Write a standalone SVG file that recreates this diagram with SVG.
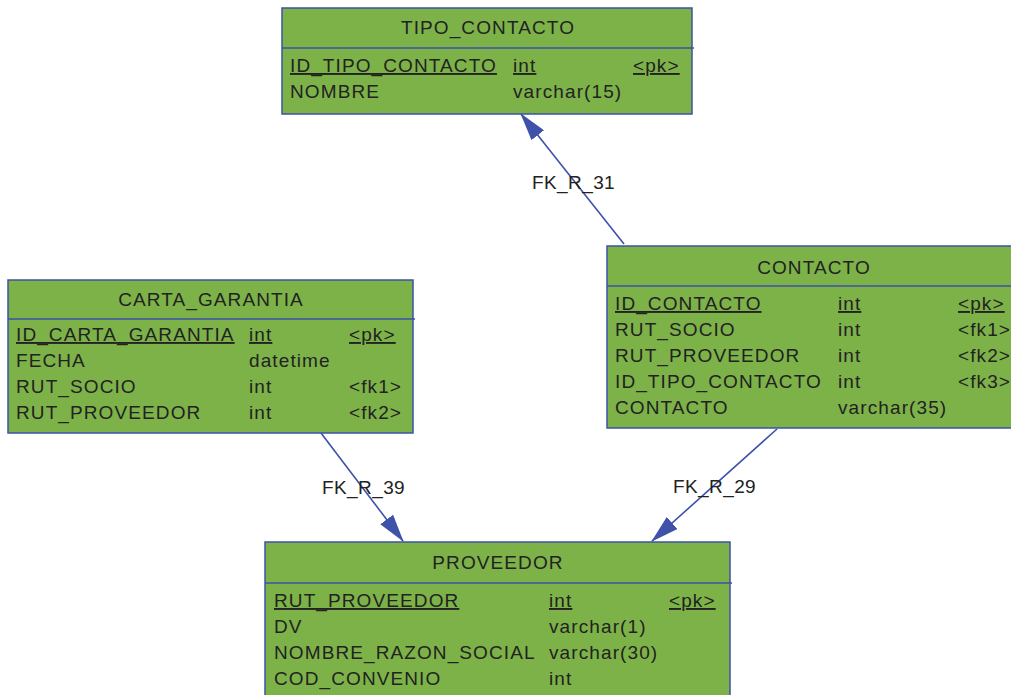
<svg xmlns="http://www.w3.org/2000/svg" width="1011" height="695" viewBox="0 0 1011 695">
  <style>
    .box { fill: #7db249; stroke: #3d52a8; stroke-width: 1.5; }
    .sep { stroke: #3d52a8; stroke-width: 1.5; }
    .title { font-family: "Liberation Sans", Arial, sans-serif; font-size: 19px; letter-spacing: 1.1px; fill: #222; text-anchor: middle; }
    .col { font-family: "Liberation Sans", Arial, sans-serif; font-size: 19px; letter-spacing: 1.1px; fill: #222; }
    .pk { text-decoration: underline; }
    .rel { stroke: #3d52a8; stroke-width: 1.6; fill: none; marker-end: url(#arrow); }
    .lbl { font-family: "Liberation Sans", Arial, sans-serif; font-size: 19px; letter-spacing: 0.4px; fill: #222; }
  </style>
  <defs>
    <marker id="arrow" viewBox="0 0 28 16" refX="27" refY="8" markerWidth="28" markerHeight="16" markerUnits="userSpaceOnUse" orient="auto">
      <path d="M0,0 L28,8 L0,16 Z" fill="#3d52a8"/>
    </marker>
  </defs>
  <rect width="1011" height="695" fill="#ffffff"/>

  <!-- relationships -->
  <g id="connectors">
    <line class="rel" x1="624" y1="244" x2="521" y2="114"/>
    <text class="lbl" x="532" y="189">FK_R_31</text>
    <line class="rel" x1="321" y1="433" x2="403" y2="541"/>
    <text class="lbl" x="322" y="494">FK_R_39</text>
    <line class="rel" x1="777" y1="429" x2="652" y2="541"/>
    <text class="lbl" x="673" y="493">FK_R_29</text>
  </g>

  <g id="tipo_contacto">
    <rect class="box" x="282" y="8" width="410" height="106"/>
    <line class="sep" x1="282" y1="48" x2="694" y2="48"/>
    <text class="title" x="488" y="34">TIPO_CONTACTO</text>
    <text class="col pk" x="290" y="72">ID_TIPO_CONTACTO</text>
    <text class="col pk" x="513" y="72">int</text>
    <text class="col pk" x="633" y="72">&lt;pk&gt;</text>
    <text class="col" x="290" y="98">NOMBRE</text>
    <text class="col" x="513" y="98">varchar(15)</text>
  </g>

  <g id="carta_garantia">
    <rect class="box" x="8" y="280" width="405" height="153"/>
    <line class="sep" x1="8" y1="319" x2="415" y2="319"/>
    <text class="title" x="211" y="306">CARTA_GARANTIA</text>
    <text class="col pk" x="16" y="341">ID_CARTA_GARANTIA</text>
    <text class="col pk" x="249" y="341">int</text>
    <text class="col pk" x="349" y="341">&lt;pk&gt;</text>
    <text class="col" x="16" y="367">FECHA</text>
    <text class="col" x="249" y="367">datetime</text>
    <text class="col" x="16" y="393">RUT_SOCIO</text>
    <text class="col" x="249" y="393">int</text>
    <text class="col" x="349" y="393">&lt;fk1&gt;</text>
    <text class="col" x="16" y="419">RUT_PROVEEDOR</text>
    <text class="col" x="249" y="419">int</text>
    <text class="col" x="349" y="419">&lt;fk2&gt;</text>
  </g>

  <g id="contacto">
    <rect class="box" x="607" y="246" width="410" height="182"/>
    <line class="sep" x1="607" y1="286" x2="1011" y2="286"/>
    <text class="title" x="814" y="274">CONTACTO</text>
    <text class="col pk" x="615" y="310">ID_CONTACTO</text>
    <text class="col pk" x="838" y="310">int</text>
    <text class="col pk" x="958" y="310">&lt;pk&gt;</text>
    <text class="col" x="615" y="336">RUT_SOCIO</text>
    <text class="col" x="838" y="336">int</text>
    <text class="col" x="958" y="336">&lt;fk1&gt;</text>
    <text class="col" x="615" y="362">RUT_PROVEEDOR</text>
    <text class="col" x="838" y="362">int</text>
    <text class="col" x="958" y="362">&lt;fk2&gt;</text>
    <text class="col" x="615" y="388">ID_TIPO_CONTACTO</text>
    <text class="col" x="838" y="388">int</text>
    <text class="col" x="958" y="388">&lt;fk3&gt;</text>
    <text class="col" x="615" y="414">CONTACTO</text>
    <text class="col" x="838" y="414">varchar(35)</text>
  </g>

  <g id="proveedor">
    <rect class="box" x="265" y="542" width="465" height="160"/>
    <line class="sep" x1="265" y1="583" x2="732" y2="583"/>
    <text class="title" x="498" y="569">PROVEEDOR</text>
    <text class="col pk" x="274" y="607">RUT_PROVEEDOR</text>
    <text class="col pk" x="549" y="607">int</text>
    <text class="col pk" x="669" y="607">&lt;pk&gt;</text>
    <text class="col" x="274" y="633">DV</text>
    <text class="col" x="549" y="633">varchar(1)</text>
    <text class="col" x="274" y="659">NOMBRE_RAZON_SOCIAL</text>
    <text class="col" x="549" y="659">varchar(30)</text>
    <text class="col" x="274" y="685">COD_CONVENIO</text>
    <text class="col" x="549" y="685">int</text>
  </g>
</svg>
